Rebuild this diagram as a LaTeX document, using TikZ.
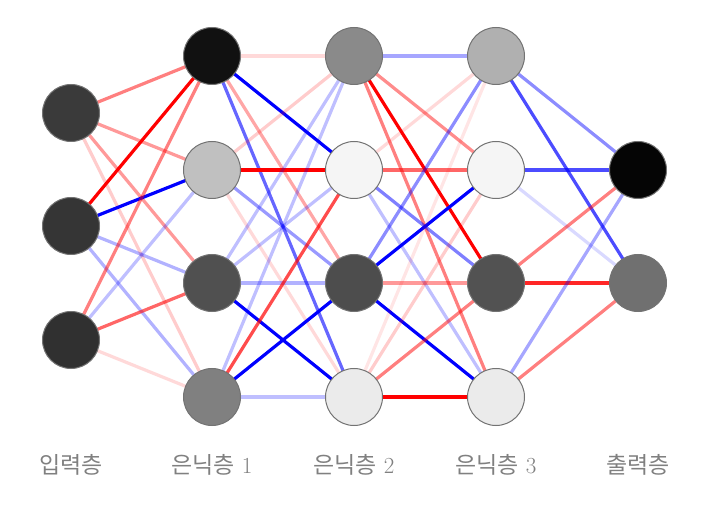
\documentclass[tikz,border=0pt]{standalone}
\usepackage{fontspec}
\newfontfamily\cjk{Noto Sans CJK KR}
\begin{document}
\begin{tikzpicture}[x=1pt,y=-1pt,
  neuron/.style={circle,minimum size=57pt,inner sep=0pt,draw=black!55,line width=1pt},
  lab/.style={text=black!50,font=\fontsize{23}{26}\selectfont},
  R/.style={draw=red,line width=3.2pt,draw opacity=#1},
  B/.style={draw=blue,line width=3.2pt,draw opacity=#1}]
\useasboundingbox (0,0) rectangle (709,510);
\def\E#1#2#3#4{\draw[#3=#4] (#1) -- (#2);}
\foreach \n/\x/\y in {i1/71/113,i2/71/226,i3/71/340,
  a1/212/56,a2/212/170,a3/212/283,a4/212/397,
  b1/354/56,b2/354/170,b3/354/283,b4/354/397,
  c1/496/56,c2/496/170,c3/496/283,c4/496/397,
  o1/638/170,o2/638/283}
  \coordinate (p\n) at (\x,\y);
% edges input->h1
\E{pi1}{pa1}{R}{.5}\E{pi1}{pa2}{R}{.4}\E{pi1}{pa3}{R}{.4}\E{pi1}{pa4}{R}{.2}
\E{pi2}{pa1}{R}{1}\E{pi2}{pa2}{B}{1}\E{pi2}{pa3}{B}{.3}\E{pi2}{pa4}{B}{.3}
\E{pi3}{pa1}{R}{.5}\E{pi3}{pa2}{B}{.25}\E{pi3}{pa3}{R}{.6}\E{pi3}{pa4}{R}{.15}
% h1->h2
\E{pa1}{pb1}{R}{.15}\E{pa1}{pb2}{B}{1}\E{pa1}{pb3}{R}{.35}\E{pa1}{pb4}{B}{.6}
\E{pa2}{pb1}{R}{.2}\E{pa2}{pb2}{R}{1}\E{pa2}{pb3}{B}{.4}\E{pa2}{pb4}{R}{.15}
\E{pa3}{pb1}{B}{.25}\E{pa3}{pb2}{B}{.25}\E{pa3}{pb3}{B}{.3}\E{pa3}{pb4}{B}{1}
\E{pa4}{pb1}{B}{.25}\E{pa4}{pb2}{R}{.7}\E{pa4}{pb3}{B}{1}\E{pa4}{pb4}{B}{.25}
% h2->h3
\E{pb1}{pc1}{B}{.35}\E{pb1}{pc2}{R}{.45}\E{pb1}{pc3}{R}{1}\E{pb1}{pc4}{R}{.5}
\E{pb2}{pc1}{R}{.15}\E{pb2}{pc2}{R}{.6}\E{pb2}{pc3}{B}{.5}\E{pb2}{pc4}{B}{.25}
\E{pb3}{pc1}{B}{.45}\E{pb3}{pc2}{B}{1}\E{pb3}{pc3}{R}{.4}\E{pb3}{pc4}{B}{1}
\E{pb4}{pc1}{R}{.1}\E{pb4}{pc2}{R}{.2}\E{pb4}{pc3}{R}{.5}\E{pb4}{pc4}{R}{1}
% h3->out
\E{pc1}{po1}{B}{.45}\E{pc1}{po2}{B}{.7}
\E{pc2}{po1}{B}{.7}\E{pc2}{po2}{B}{.15}
\E{pc3}{po1}{R}{.5}\E{pc3}{po2}{R}{.85}
\E{pc4}{po1}{B}{.35}\E{pc4}{po2}{R}{.5}
\foreach \n/\c in {i1/3a3a3a,i2/353535,i3/303030,a1/111111,a2/c0c0c0,a3/505050,a4/808080,
  b1/8a8a8a,b2/f5f5f5,b3/4d4d4d,b4/ebebeb,c1/b0b0b0,c2/f5f5f5,c3/525252,c4/ebebeb,
  o1/050505,o2/707070}{
  \definecolor{fc}{HTML}{\c}
  \node[neuron,fill=fc] (\n) at (p\n) {};}
\node[lab] (l0) at (71,465) {\cjk 입력층};
\node[lab] (l1) at (212,465) {{\cjk 은닉층} 1};
\node[lab] (l2) at (354,465) {{\cjk 은닉층} 2};
\node[lab] (l3) at (496,465) {{\cjk 은닉층} 3};
\node[lab] (l4) at (638,465) {\cjk 출력층};
\end{tikzpicture}
\end{document}
